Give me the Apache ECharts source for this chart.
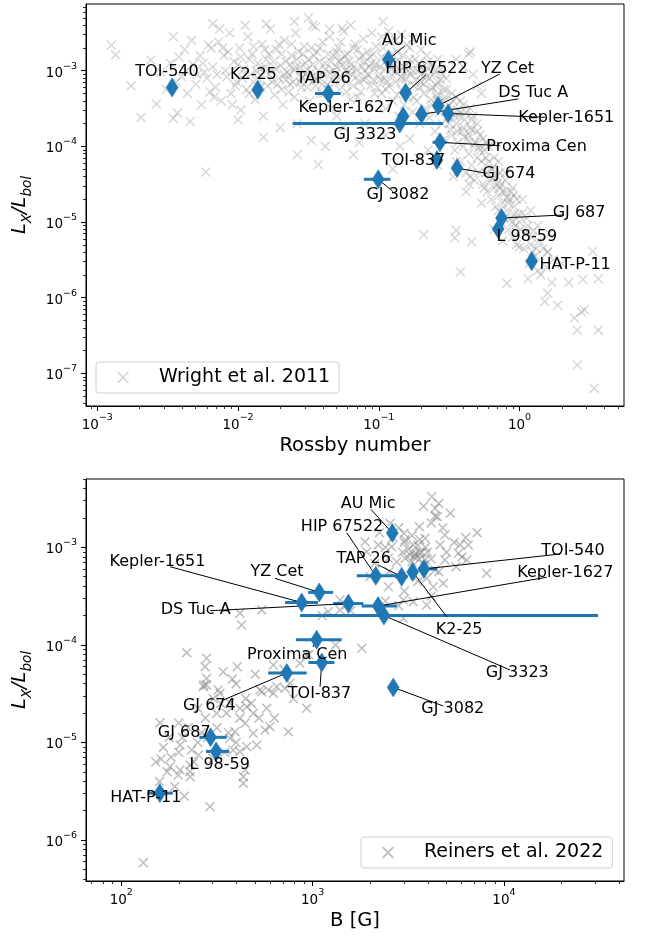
<!DOCTYPE html>
<html>
<head>
<meta charset="utf-8">
<script src="https://cdn.jsdelivr.net/npm/echarts@6/dist/echarts.min.js"></script>
<style>
  html, body { margin: 0; padding: 0; background: #fff; }
  #chart { width: 646px; height: 936px; }
</style>
</head>
<body>
<div id="chart"></div>
<script>
// ---- Targets: X-ray activity versus Rossby number and surface magnetic field ----
const starNames = ['TOI-540', 'K2-25', 'TAP 26', 'AU Mic', 'HIP 67522', 'YZ Cet', 'DS Tuc A',
  'Kepler-1651', 'Proxima Cen', 'TOI-837', 'GJ 674', 'GJ 3082', 'GJ 687', 'L 98-59',
  'HAT-P-11', 'Kepler-1627', 'GJ 3323'];
const rossby     = [0.0034, 0.0138, 0.0438, 0.117, 0.155, 0.264, 0.201, 0.311, 0.272, 0.259, 0.360, 0.0991, 0.745, 0.705, 1.22, 0.149, 0.141];
const rossbyLow  = [null, null, 0.0352, 0.1065, null, null, null, null, 0.241, null, null, 0.0783, null, null, null, null, 0.0244];
const rossbyHigh = [null, null, 0.0536, 0.130, null, null, null, null, 0.303, null, null, 0.121, null, null, null, null, 0.286];
const lxLbol     = [6.0e-4, 5.6e-4, 5.0e-4, 1.4e-3, 5.1e-4, 3.45e-4, 2.65e-4, 2.72e-4, 1.13e-4, 6.6e-5, 5.15e-5, 3.67e-5, 1.13e-5, 8.1e-6, 3.03e-6, 2.5e-4, 2.0e-4];
const fieldB     = [3820, 3335, 2920, 2610, 2140, 1084, 1538, 877, 1050, 1117, 733, 2640, 293, 313, 159, 2200, 2360];
const fieldBLow  = [3556, 3150, 2700, null, 1702, 948, 1280, 718, 818, 950, 586, null, 256, 277, 137, 1807, 860];
const fieldBHigh = [4477, 3530, 3150, null, 2864, 1280, 1842, 1067, 1419, 1300, 931, null, 356, 367, 186, 2754, 31050];

// ---- Comparison samples, stored as [log10 x, log10 Lx/Lbol] ----
// Wright et al. 2011: x = Rossby number
const wrightLog = [
  [-2.90,-2.66],[-2.87,-2.79],[-2.76,-3.20],[-2.69,-3.62],[-2.58,-3.44],[-2.46,-2.55],[-2.46,-3.63],[-2.43,-3.56],[-2.34,-3.67],[-2.23,-4.34],[-2.18,-2.38],[-2.62,-2.86],[-2.55,-3.02],[-2.51,-3.25],[-2.40,-3.08],[-2.38,-2.72],[-2.36,-3.30],[-2.32,-2.92],[-2.30,-3.18],[-2.27,-2.80],[-2.26,-3.45],[-2.24,-3.02],[-2.21,-2.66],[-2.20,-3.28],
  [-2.48,-2.90],[-2.44,-3.15],[-2.42,-2.82],[-2.37,-3.00],[-2.33,-2.60],[-2.29,-3.05],[-2.25,-2.90],[-2.22,-3.10],[-2.19,-2.70],[-2.17,-3.35],
  [-2.18,-2.95],[-2.16,-3.22],[-2.14,-2.62],[-2.12,-3.40],[-2.10,-2.80],[-2.08,-3.08],[-2.06,-2.50],[-2.05,-3.30],[-2.03,-2.88],[-2.01,-3.15],[-1.99,-2.70],[-1.98,-3.52],[-1.96,-2.98],[-1.94,-3.25],[-1.93,-2.55],[-1.91,-3.05],[-1.90,-2.78],[-1.88,-3.38],[-1.86,-2.90],[-1.85,-3.12],[-1.83,-2.65],[-1.82,-3.60],[-1.80,-2.85],[-1.79,-3.20],[-1.77,-2.45],[-1.76,-3.00],[-1.74,-3.32],[-1.73,-2.72],[-1.71,-3.10],[-1.70,-2.93],[-1.68,-3.45],[-1.67,-2.60],[-1.65,-3.02],[-1.64,-3.28],[-1.62,-2.80],[-1.61,-3.15],[-1.59,-2.50],[-1.58,-3.70],[-1.56,-2.95],[-1.55,-3.22],[-1.53,-2.68],[-1.52,-3.05],[-1.50,-2.85],[-1.49,-3.40],[-1.47,-2.40],[-1.46,-3.12],[-1.44,-2.75],[-1.43,-3.00],[-1.41,-3.30],[-1.40,-2.62],[-1.38,-2.90],[-1.37,-3.18],[-1.35,-2.55],[-1.34,-3.50],[-1.32,-2.80],[-1.31,-3.05],[-1.29,-2.70],[-1.28,-3.25],[-1.26,-2.92],[-1.25,-2.48],[-1.23,-3.15],[-1.22,-2.78],[-1.20,-3.38],[-1.19,-2.98],[-1.17,-2.65],[-1.16,-3.08],[-1.14,-2.85],[-1.13,-3.28],[-1.11,-2.58],[-1.10,-3.00],[-1.08,-2.75],[-1.07,-3.45],[-1.05,-2.90],[-1.04,-3.12],[-1.02,-2.68],[-1.01,-3.22],
  [-2.15,-3.05],[-2.11,-2.70],[-2.04,-3.45],[-2.00,-2.92],[-1.97,-3.10],[-1.92,-2.85],[-1.89,-3.15],[-1.84,-2.98],[-1.81,-2.72],[-1.78,-3.05],[-1.75,-2.88],[-1.72,-3.18],[-1.69,-2.78],[-1.66,-3.12],[-1.63,-2.92],[-1.60,-3.35],[-1.57,-2.75],[-1.54,-3.08],[-1.51,-2.98],[-1.48,-2.70],[-1.45,-3.20],[-1.42,-2.88],[-1.39,-3.05],[-1.36,-2.78],[-1.33,-3.12],[-1.30,-2.95],[-1.27,-2.62],[-1.24,-3.00],[-1.21,-2.88],[-1.18,-3.20],[-1.15,-2.72],[-1.12,-2.95],[-1.09,-3.10],[-1.06,-2.82],[-1.03,-2.98],
  [-2.09,-3.00],[-2.07,-2.75],[-2.02,-3.20],[-1.98,-2.82],[-1.95,-3.05],[-1.92,-3.30],[-1.89,-2.68],[-1.87,-3.00],[-1.84,-3.22],[-1.81,-2.95],[-1.78,-2.78],[-1.76,-3.15],[-1.73,-2.98],[-1.71,-2.65],[-1.69,-3.25],[-1.66,-2.88],[-1.64,-3.05],[-1.62,-2.65],[-1.60,-3.00],[-1.58,-2.85],[-1.56,-3.15],[-1.54,-2.78],[-1.52,-2.90],[-1.50,-3.10],[-1.48,-3.02],[-1.46,-2.80],[-1.44,-3.12],[-1.42,-2.70],[-1.40,-3.18],[-1.38,-2.98],[-1.36,-3.25],[-1.34,-2.88],[-1.32,-3.00],[-1.30,-2.75],[-1.28,-2.88],[-1.26,-3.10],[-1.24,-2.80],[-1.22,-3.02],[-1.20,-2.92],[-1.18,-2.70],[-1.16,-2.98],[-1.14,-3.15],[-1.12,-2.80],[-1.10,-2.88],[-1.08,-3.05],[-1.06,-3.20],[-1.04,-2.78],[-1.02,-2.92],[-1.00,-3.08],
  [-1.67,-3.05],[-1.63,-3.18],[-1.59,-2.95],[-1.55,-3.10],[-1.51,-3.22],[-1.47,-2.92],[-1.43,-3.08],[-1.39,-3.30],[-1.35,-3.02],[-1.31,-3.15],[-1.27,-2.85],[-1.23,-3.28],[-1.19,-3.05],[-1.15,-3.35],[-1.11,-3.12],[-1.07,-2.95],[-1.03,-3.30],[-0.99,-3.12],[-0.95,-3.25],[-0.91,-2.98],[-0.87,-3.32],[-0.83,-3.10],[-0.79,-3.00],[-0.75,-3.35],[-0.71,-3.22],[-0.67,-3.02],[-0.63,-3.38],[-0.59,-3.20],[-0.57,-3.42],[-0.53,-3.35],
  [-1.95,-2.40],[-1.80,-2.38],[-1.60,-2.35],[-1.45,-2.42],[-1.35,-2.45],[-1.20,-2.40],[-1.05,-2.50],[-0.97,-2.35],[-1.26,-2.44],[-1.50,-2.30],[-2.13,-2.45],
  [-1.82,-3.88],[-1.58,-4.11],[-1.48,-3.92],[-1.43,-4.24],[-1.38,-4.00],[-1.18,-4.11],[-1.25,-3.75],[-1.30,-3.60],[-1.70,-3.75],[-2.00,-3.65],[-1.10,-3.70],[-1.14,-3.95],
  [-0.99,-2.95],[-0.98,-3.30],[-0.97,-2.70],[-0.96,-3.10],[-0.95,-3.50],[-0.94,-2.85],[-0.93,-3.20],[-0.92,-2.62],[-0.91,-3.05],[-0.90,-3.40],[-0.89,-2.90],[-0.88,-3.15],[-0.87,-2.75],[-0.86,-3.60],[-0.85,-3.00],[-0.84,-3.25],[-0.83,-2.80],[-0.82,-3.45],[-0.81,-3.10],[-0.80,-2.92],[-0.79,-3.35],[-0.78,-2.70],[-0.77,-3.05],[-0.76,-3.55],[-0.75,-3.20],[-0.74,-2.85],[-0.73,-3.40],[-0.72,-3.00],[-0.71,-3.70],[-0.70,-3.15],[-0.69,-2.95],[-0.68,-3.30],[-0.67,-3.50],[-0.66,-3.08],[-0.65,-2.88],[-0.64,-3.62],[-0.63,-3.25],[-0.62,-3.45],[-0.61,-3.05],[-0.60,-3.80],[-0.59,-3.35],[-0.58,-3.15],[-0.57,-3.55],[-0.56,-2.98],[-0.55,-3.70],[-0.54,-3.40],[-0.53,-3.90],[-0.52,-3.25],[-0.51,-3.60],[-0.50,-3.45],
  [-0.98,-2.82],[-0.96,-2.98],[-0.94,-3.15],[-0.92,-2.90],[-0.90,-2.78],[-0.88,-3.02],[-0.86,-2.88],[-0.84,-3.08],[-0.82,-2.95],[-0.80,-3.20],[-0.78,-2.85],[-0.76,-3.00],[-0.74,-3.12],[-0.72,-2.90],[-0.70,-3.05],[-0.68,-3.18],[-0.66,-2.95],[-0.64,-3.10],[-0.62,-3.22],[-0.60,-3.00],[-0.58,-3.30],[-0.56,-3.12],[-0.54,-3.25],
  [-0.98,-2.55],[-0.93,-2.48],[-0.88,-2.60],[-0.84,-2.52],[-0.80,-2.66],[-0.76,-2.58],[-0.70,-2.72],[-0.66,-2.80],[-0.62,-2.92],[-0.58,-2.85],[-0.55,-3.05],[-0.52,-3.10],[-0.35,-2.75],
  [-0.95,-3.85],[-0.85,-4.00],[-0.78,-3.90],[-0.72,-4.15],[-0.65,-4.05],[-0.58,-4.25],[-0.90,-4.30],
  [-0.49,-3.55],[-0.48,-3.85],[-0.47,-3.40],[-0.46,-4.05],[-0.45,-3.70],[-0.44,-3.95],[-0.43,-3.60],[-0.42,-4.20],[-0.41,-3.80],[-0.40,-4.00],[-0.39,-3.65],[-0.38,-4.35],[-0.37,-3.90],[-0.36,-4.10],[-0.35,-3.75],[-0.34,-4.25],[-0.33,-4.00],[-0.32,-4.45],[-0.31,-3.95],[-0.30,-4.15],[-0.29,-4.35],[-0.28,-3.85],[-0.27,-4.20],[-0.26,-4.50],[-0.25,-4.05],[-0.24,-4.35],[-0.23,-4.60],[-0.22,-4.20],[-0.21,-4.45],[-0.20,-4.70],[-0.45,-3.35],[-0.40,-3.45],[-0.35,-3.50],[-0.30,-3.70],[-0.47,-4.40],[-0.38,-4.60],[-0.27,-4.75],[-0.33,-3.60],[-0.42,-3.55],[-0.36,-4.50],[-0.45,-2.85],[-0.40,-2.95],[-0.36,-2.78],[-0.33,-3.05],[-0.30,-3.20],[-0.27,-3.30],
  [-0.52,-3.50],[-0.50,-3.70],[-0.48,-3.30],[-0.46,-3.60],[-0.44,-3.80],[-0.42,-3.40],[-0.40,-3.75],[-0.38,-3.55],[-0.36,-3.85],[-0.34,-3.65],[-0.32,-3.95],[-0.30,-3.80],[-0.28,-4.05],[-0.26,-3.90],[-0.24,-4.15],[-0.22,-4.00],[-0.20,-4.30],[-0.18,-4.15],[-0.16,-4.50],[-0.14,-4.35],[-0.12,-4.60],[-0.10,-4.45],[-0.08,-4.75],[-0.06,-4.60],[-0.04,-4.90],[-0.02,-4.70],[0.00,-5.00],[0.02,-4.88],[0.04,-5.15],[0.06,-5.05],[0.08,-5.30],[0.10,-5.12],[0.12,-5.35],[-0.45,-4.20],[-0.35,-4.40],[-0.25,-4.55],[-0.15,-4.85],[-0.05,-5.00],
  [-0.49,-3.78],[-0.44,-3.52],[-0.39,-3.88],[-0.34,-3.78],[-0.29,-4.02],[-0.24,-3.95],[-0.19,-4.42],[-0.14,-4.55],[-0.09,-4.68],[-0.04,-4.65],
  [-0.19,-4.30],[-0.18,-4.55],[-0.17,-4.80],[-0.16,-4.40],[-0.15,-4.65],[-0.14,-5.00],[-0.13,-4.50],[-0.12,-4.75],[-0.11,-4.95],[-0.10,-4.60],[-0.09,-4.85],[-0.08,-5.10],[-0.07,-4.70],[-0.06,-4.95],[-0.05,-5.20],[-0.04,-4.80],[-0.03,-5.05],[-0.02,-5.30],[-0.01,-4.90],[-0.15,-4.20],[-0.10,-4.35],[-0.05,-4.55],[-0.18,-5.10],[-0.12,-5.25],
  [0.01,-5.10],[0.03,-5.35],[0.05,-4.95],[0.07,-5.55],[0.09,-5.20],[0.11,-5.45],[0.13,-5.05],[0.15,-5.70],[0.17,-5.35],[0.19,-5.60],[0.21,-5.15],[0.23,-5.80],[0.02,-4.70],[0.08,-4.85],[0.14,-5.25],[0.20,-5.40],[0.06,-5.75],[0.18,-6.05],[0.24,-5.50],
  [-0.68,-5.17],[-0.45,-5.11],[-0.46,-5.21],[-0.34,-5.26],[-0.42,-5.66],[-0.09,-5.81],[0.20,-5.94],[0.27,-6.10],[0.52,-5.39],[0.45,-5.76],[0.56,-5.75],[0.39,-6.27],[0.44,-6.19],[0.46,-6.16],[0.41,-6.43],[0.56,-6.43],[0.41,-6.89],[0.53,-7.20],[0.09,-5.39],[0.20,-5.39],[0.13,-5.64],[0.00,-5.33],[0.30,-5.55],[0.35,-5.80]
];
// Reiners et al. 2022: x = magnetic field B [G]
const reinersLog = [
  [2.202,-4.797],[2.115,-6.232],[2.464,-5.658],[2.208,-5.169],[2.307,-5.026],[2.368,-5.077],[2.255,-5.248],[2.298,-5.333],[2.307,-5.282],[2.359,-5.299],[2.359,-5.230],[2.403,-5.128],[2.429,-4.428],[2.446,-4.411],[2.516,-4.496],[2.568,-4.598],[2.499,-4.701],[2.620,-4.650],[2.656,-4.633],[2.690,-4.701],[2.647,-4.803],[2.594,-4.889],[2.568,-4.957],[2.585,-5.077],[2.620,-5.094],[2.656,-5.043],[2.690,-4.906],[2.708,-5.026],[2.647,-5.282],[2.638,-5.350],[2.638,-5.418],[2.481,-5.162],[2.760,-4.650],[2.777,-4.838],[2.751,-4.872],[2.795,-4.496],[2.873,-4.889],[2.969,-4.650],[2.856,-4.445],[2.734,-4.480],
  [2.342,-4.080],[2.446,-4.137],[2.438,-4.223],[2.446,-4.342],[2.507,-4.462],[2.533,-4.275],[2.606,-4.223],[2.432,-4.411],[2.620,-3.676],[2.629,-3.796],[2.734,-3.642],[2.795,-4.206],[2.725,-4.462],[2.768,-4.462],[2.812,-4.428],[2.882,-4.393],[2.934,-4.189],[2.969,-4.103],[3.082,-3.660],
  [3.623,-2.482],[3.640,-2.600],[3.652,-2.686],[3.692,-2.874],[3.405,-2.754],[3.478,-2.857],[3.558,-2.789],[3.274,-2.943],[3.343,-2.976],[3.413,-2.994],[3.483,-2.925],[3.526,-2.976],[3.588,-2.908],[3.666,-2.976],[3.771,-2.976],[3.814,-2.976],[3.762,-3.061],[3.806,-3.130],[3.692,-3.130],[3.910,-3.266],[3.561,-3.061],[3.535,-3.079],[3.588,-3.130],[3.483,-3.113],[3.396,-3.113],[3.283,-3.045],[3.326,-3.164],[3.396,-3.404],[3.596,-3.318],[3.631,-3.404],[3.683,-3.369],[3.640,-3.233],[3.474,-3.540],[3.526,-3.557],[3.596,-3.591],[3.178,-3.591],[3.143,-3.540],[3.143,-3.642],[3.474,-3.727],[3.257,-4.035],
  [3.50,-3.02],[3.53,-3.10],[3.55,-2.98],[3.57,-3.05],[3.52,-3.15],[3.56,-3.12],[3.59,-3.00],[3.54,-3.06],[3.58,-3.18],[3.51,-3.08],[3.70,-3.05],[3.75,-3.20],[3.80,-2.90],[3.72,-2.65],[3.66,-2.55],[3.62,-2.75],[3.45,-2.80],[3.40,-3.25],[3.30,-3.30],[3.45,-3.60],[3.62,-3.50],
  [3.48,-2.95],[3.52,-2.88],[3.56,-2.92],[3.60,-3.05],[3.47,-3.05],[3.44,-3.15],[3.38,-3.00],[3.42,-2.90],[3.35,-2.85],[3.62,-3.12],[3.68,-2.80],[3.74,-2.95],[3.78,-3.10],[3.64,-2.68],[3.58,-2.58],[3.55,-3.35],[3.48,-3.45],[3.38,-3.55],[3.66,-3.25],[3.86,-2.85],
  [3.05,-3.70],[3.20,-3.65],[3.12,-4.00],[2.98,-4.10],
  [2.70,-4.30],[2.85,-4.25],[2.90,-4.55],[2.60,-4.40],[2.65,-4.55],[2.80,-4.75],[2.55,-4.70],[2.50,-4.85],[2.45,-4.95],[2.40,-4.65],[2.35,-4.85],[2.30,-5.10],[2.25,-4.95],[2.28,-5.45],[2.33,-5.55],[2.18,-5.20],
  [2.22,-5.05],[2.26,-5.15],[2.32,-4.95],[2.38,-5.20],[2.42,-4.90],[2.36,-5.35],[2.24,-5.30],[2.52,-4.60],[2.56,-4.90],[2.60,-5.00],[2.48,-4.55],[2.44,-4.75],[2.62,-4.75],[2.68,-4.60],[2.54,-5.10],[2.40,-5.00],[2.20,-5.40],[2.30,-4.80],[2.58,-4.35],[2.72,-4.75]
];

// ---- Decade tick positions (log10 units) ----
const rossbyDecades = [-3, -2, -1, 0];
const fieldDecades = [2, 3, 4];
const lxDecadesTop = [-7, -6, -5, -4, -3];
const lxDecadesBottom = [-6, -5, -4, -3];

// ---- Annotation placement (log10 data units): text centre and leader-line end ----
const topLabels = {
  'TOI-540': { text: [-2.505, -3.013] },
  'K2-25': { text: [-1.891, -3.057] },
  'TAP 26': { text: [-1.393, -3.114] },
  'Kepler-1627': { text: [-1.230, -3.493] },
  'GJ 3323': { text: [-1.099, -3.850] },
  'AU Mic': { text: [-0.785, -2.603], line: [-0.815, -2.670] },
  'HIP 67522': { text: [-0.661, -2.981], line: [-0.666, -3.057] },
  'YZ Cet': { text: [-0.085, -2.978], line: [-0.140, -3.044] },
  'DS Tuc A': { text: [0.097, -3.299], line: [-0.010, -3.374] },
  'Kepler-1651': { text: [0.332, -3.629], line: [0.180, -3.616] },
  'Proxima Cen': { text: [0.121, -4.005], line: [-0.140, -3.991] },
  'TOI-837': { text: [-0.753, -4.190] },
  'GJ 674': { text: [-0.075, -4.365], line: [-0.234, -4.356] },
  'GJ 3082': { text: [-0.864, -4.643], line: [-0.898, -4.599] },
  'GJ 687': { text: [0.423, -4.885], line: [0.310, -4.907] },
  'L 98-59': { text: [0.052, -5.194] },
  'HAT-P-11': { text: [0.395, -5.568] }
};
const bottomLabels = {
  'AU Mic': { text: [3.291, -2.556], line: [3.305, -2.611] },
  'HIP 67522': { text: [3.154, -2.789], line: [3.178, -2.850] },
  'TAP 26': { text: [3.267, -3.123], line: [3.343, -3.181] },
  'TOI-540': { text: [4.361, -3.035], line: [4.293, -3.069] },
  'Kepler-1627': { text: [4.321, -3.266], line: [4.224, -3.307] },
  'K2-25': { text: [3.766, -3.847], line: [3.701, -3.711] },
  'GJ 3323': { text: [4.070, -4.285], line: [4.032, -4.257] },
  'GJ 3082': { text: [3.733, -4.660], line: [3.683, -4.626] },
  'Kepler-1651': { text: [2.189, -3.148], line: [2.255, -3.199] },
  'YZ Cet': { text: [2.814, -3.256], line: [2.803, -3.318] },
  'DS Tuc A': { text: [2.389, -3.642], line: [2.464, -3.650] },
  'Proxima Cen': { text: [2.920, -4.103], line: [3.002, -4.021] },
  'TOI-837': { text: [3.036, -4.503], line: [3.039, -4.428] },
  'GJ 674': { text: [2.460, -4.626], line: [2.533, -4.565] },
  'GJ 687': { text: [2.329, -4.900] },
  'L 98-59': { text: [2.514, -5.231] },
  'HAT-P-11': { text: [2.128, -5.572] }
};

// ---- Styling ----
const FONT = '"DejaVu Sans", sans-serif';
const BLUE = '#1f77b4';
const crossPath = 'path://M0,1.1L1.1,0L10,8.9L8.9,10ZM8.9,0L10,1.1L1.1,10L0,8.9Z';
const RANGE_TOP = { x: [-3.0803, 0.7422], y: [-7.4322, -2.1183] };
const RANGE_BOT = { x: [1.8155, 4.6278], y: [-6.4191, -2.3002] };
const RECT_TOP = { left: 86, top: 4, width: 538, height: 402 };
const RECT_BOT = { left: 86, top: 479, width: 538, height: 402 };

const log10 = Math.log10;

function minorLogTicks(lo, hi) {
  const out = [];
  for (let n = Math.floor(lo) - 1; n <= Math.ceil(hi); n++) {
    for (let k = 2; k <= 9; k++) {
      const v = n + log10(k);
      if (v > lo && v < hi) out.push(v);
    }
  }
  return out;
}

function powLabel(v) {
  const e = Math.round(v);
  return '{b|10}{s|' + (e < 0 ? '\u2212' + (-e) : String(e)) + '}';
}

const tickRich = {
  b: { fontSize: 13.5, fontFamily: FONT, color: '#000', lineHeight: 19, verticalAlign: 'bottom' },
  s: { fontSize: 9.5, fontFamily: FONT, color: '#000', lineHeight: 11, verticalAlign: 'top' }
};

const yName = '{i|L}{s|X}{i|/L}{s|bol}';
const yNameStyle = {
  rich: {
    i: { fontSize: 19.5, fontStyle: 'italic', fontFamily: FONT, color: '#000', lineHeight: 25, verticalAlign: 'top' },
    s: { fontSize: 13.5, fontStyle: 'italic', fontFamily: FONT, color: '#000', lineHeight: 14, verticalAlign: 'bottom' }
  }
};

function mainX(grid, range, majors, name) {
  return {
    type: 'value', gridIndex: grid, min: range[0], max: range[1], position: 'bottom',
    name: name, nameLocation: 'middle', nameGap: 30,
    nameTextStyle: { fontSize: 19.5, fontFamily: FONT, color: '#000' },
    axisLine: { show: true, onZero: false, lineStyle: { color: '#000', width: 1 } },
    axisTick: { show: true, length: 5, customValues: majors, lineStyle: { color: '#000', width: 1 } },
    axisLabel: { show: true, customValues: majors, formatter: powLabel, margin: 7, rich: tickRich },
    splitLine: { show: false }
  };
}
function mainY(grid, range, majors) {
  return {
    type: 'value', gridIndex: grid, min: range[0], max: range[1], position: 'left',
    name: yName, nameLocation: 'middle', nameGap: 49, nameRotate: 90, nameTextStyle: yNameStyle,
    axisLine: { show: true, onZero: false, lineStyle: { color: '#000', width: 1 } },
    axisTick: { show: true, length: 5, customValues: majors, lineStyle: { color: '#000', width: 1 } },
    axisLabel: { show: true, customValues: majors, formatter: powLabel, margin: 9, rich: tickRich },
    splitLine: { show: false }
  };
}
function minorAxis(grid, range, pos) {
  return {
    type: 'value', gridIndex: grid, min: range[0], max: range[1], position: pos,
    axisLine: { show: false, onZero: false },
    axisTick: { show: true, length: 3, customValues: minorLogTicks(range[0], range[1]), lineStyle: { color: '#000', width: 0.8 } },
    axisLabel: { show: false },
    splitLine: { show: false }
  };
}

// ---- Build per-panel series data from the tables above ----
function buildPanel(xs, xLo, xHi, labels) {
  const points = [], bars = [], leaders = [], texts = [];
  starNames.forEach((name, i) => {
    const px = log10(xs[i]), py = log10(lxLbol[i]);
    points.push({ name: name, value: [px, py] });
    if (xLo[i] != null && xHi[i] != null) bars.push([log10(xLo[i]), log10(xHi[i]), py]);
    const lab = labels[name];
    if (lab) {
      texts.push({ name: name, value: lab.text });
      if (lab.line) leaders.push([px, py, lab.line[0], lab.line[1]]);
    }
  });
  return { points, bars, leaders, texts };
}
const topPanel = buildPanel(rossby, rossbyLow, rossbyHigh, topLabels);
const botPanel = buildPanel(fieldB, fieldBLow, fieldBHigh, bottomLabels);

function errorBarRender(params, api) {
  const a = api.coord([api.value(0), api.value(2)]);
  const b = api.coord([api.value(1), api.value(2)]);
  return { type: 'line', shape: { x1: a[0], y1: a[1], x2: b[0], y2: b[1] },
           style: { stroke: BLUE, lineWidth: 3 } };
}
function leaderRender(params, api) {
  const a = api.coord([api.value(0), api.value(1)]);
  const b = api.coord([api.value(2), api.value(3)]);
  return { type: 'line', shape: { x1: a[0], y1: a[1], x2: b[0], y2: b[1] },
           style: { stroke: '#000', lineWidth: 1 } };
}
function textRenderFor(items) {
  return function (params, api) {
    const p = api.coord([api.value(0), api.value(1)]);
    return { type: 'text', x: p[0], y: p[1],
             style: { text: items[params.dataIndex].name, fill: '#000', fontSize: 16, fontFamily: FONT,
                      align: 'center', verticalAlign: 'middle' } };
  };
}

function panelSeries(panel, cloud, cloudName, cloudColor, axisIdx) {
  return [
    { type: 'scatter', name: cloudName, xAxisIndex: axisIdx, yAxisIndex: axisIdx, data: cloud,
      symbol: crossPath, symbolSize: 10, itemStyle: { color: cloudColor, opacity: 1 }, z: 1, silent: true },
    { type: 'custom', xAxisIndex: axisIdx, yAxisIndex: axisIdx, data: panel.bars,
      renderItem: errorBarRender, z: 2, silent: true },
    { type: 'custom', xAxisIndex: axisIdx, yAxisIndex: axisIdx, data: panel.leaders,
      renderItem: leaderRender, z: 3, silent: true },
    { type: 'scatter', xAxisIndex: axisIdx, yAxisIndex: axisIdx, data: panel.points,
      symbol: 'diamond', symbolSize: [12, 19],
      itemStyle: { color: BLUE, opacity: 1, borderColor: BLUE, borderWidth: 0.5 }, z: 4, silent: true },
    { type: 'custom', xAxisIndex: axisIdx, yAxisIndex: axisIdx, data: panel.texts,
      renderItem: textRenderFor(panel.texts), z: 5, silent: true }
  ];
}

function legendBox(name, left, top) {
  return {
    data: [{ name: name, icon: crossPath }],
    left: left, top: top, orient: 'horizontal', selectedMode: false,
    padding: [6, 9, 6, 21], itemWidth: 12, itemHeight: 12,
    backgroundColor: 'rgba(255,255,255,0.8)', borderColor: '#d0d0d0', borderWidth: 1, borderRadius: 3,
    textStyle: { fontSize: 19, fontFamily: FONT, color: '#000', padding: [0, 0, 0, 25] }
  };
}

const option = {
  backgroundColor: '#fff',
  animation: false,
  grid: [
    Object.assign({ show: true, borderColor: '#000', borderWidth: 1, backgroundColor: 'transparent', containLabel: false, outerBoundsMode: 'none' }, RECT_TOP),
    Object.assign({ show: false, containLabel: false, outerBoundsMode: 'none' }, RECT_TOP),
    Object.assign({ show: true, borderColor: '#000', borderWidth: 1, backgroundColor: 'transparent', containLabel: false, outerBoundsMode: 'none' }, RECT_BOT),
    Object.assign({ show: false, containLabel: false, outerBoundsMode: 'none' }, RECT_BOT)
  ],
  xAxis: [
    mainX(0, RANGE_TOP.x, rossbyDecades, 'Rossby number'),
    minorAxis(1, RANGE_TOP.x, 'bottom'),
    mainX(2, RANGE_BOT.x, fieldDecades, 'B [G]'),
    minorAxis(3, RANGE_BOT.x, 'bottom')
  ],
  yAxis: [
    mainY(0, RANGE_TOP.y, lxDecadesTop),
    minorAxis(1, RANGE_TOP.y, 'left'),
    mainY(2, RANGE_BOT.y, lxDecadesBottom),
    minorAxis(3, RANGE_BOT.y, 'left')
  ],
  legend: [
    legendBox('Wright et al. 2011', 96, 362),
    legendBox('Reiners et al. 2022', 361, 837)
  ],
  series: [].concat(
    panelSeries(topPanel, wrightLog, 'Wright et al. 2011', 'rgba(128,128,128,0.3)', 0),
    panelSeries(botPanel, reinersLog, 'Reiners et al. 2022', 'rgba(128,128,128,0.5)', 2)
  )
};

const chart = echarts.init(document.getElementById('chart'), null, { renderer: 'canvas' });
chart.setOption(option);
</script>
</body>
</html>
